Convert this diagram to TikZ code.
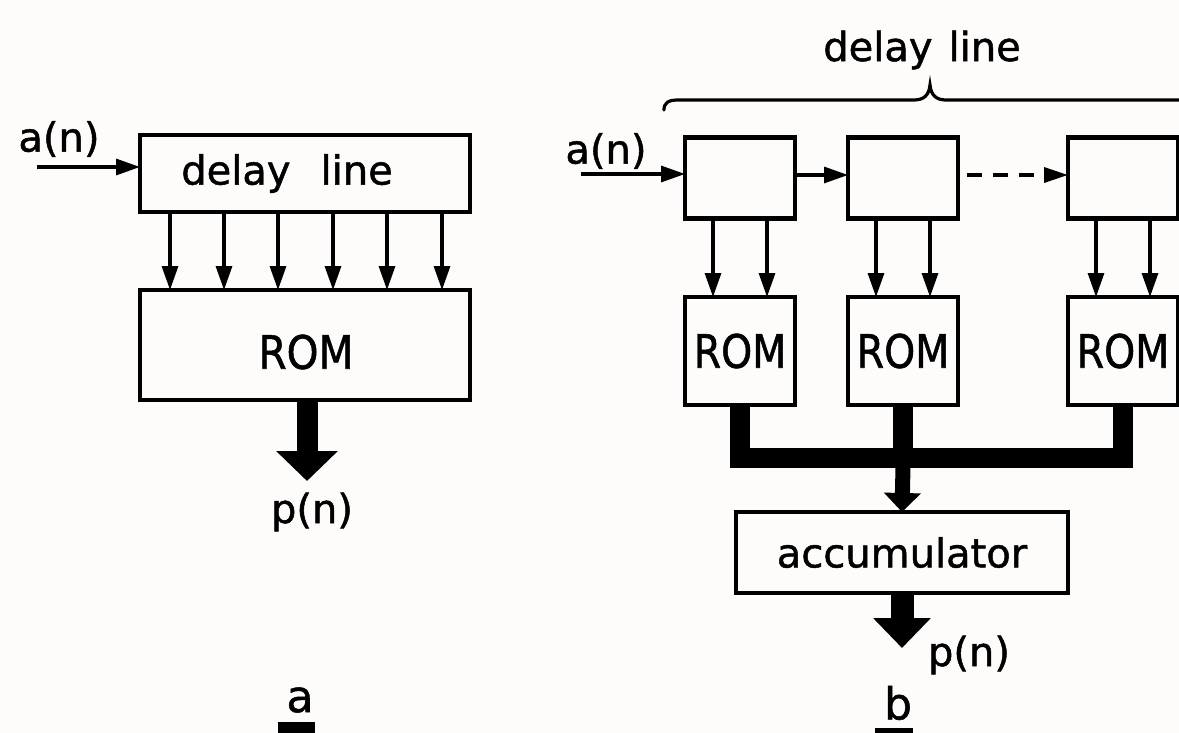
\documentclass[tikz,border=0pt]{standalone}
\usepackage{fontspec}
\setmainfont{DejaVu Sans}[FakeBold=1.2]
\newfontfamily\lett{DejaVu Sans}[FakeBold=1.2]
\usetikzlibrary{arrows.meta,calc}
\definecolor{paper}{RGB}{253,252,250}
\begin{document}
\begin{tikzpicture}[x=1pt,y=-1pt,
  box/.style={draw, line width=4.2pt, inner sep=0pt, outer sep=0pt},
  lbl/.style={font=\lett\fontsize{40}{44}\selectfont, inner sep=0pt},
  romfont/.style={font=\lett\fontsize{46}{50}\selectfont},
  captxt/.style={font=\lett\fontsize{44}{48}\selectfont, inner sep=0pt},
  thinarr/.style={line width=3.2pt, -{Triangle[length=24pt 0,width=16pt 0]}},
  dasharr/.style={line width=3.4pt, dash pattern=on 15pt off 11pt, -{Triangle[length=24pt 0,width=15pt 0]}},
  bus/.style={line width=20pt, line join=miter},
  bigarrL/.style={line width=21pt, -{Triangle[length=30pt 0,width=60pt 0]}},
  bigarrR/.style={line width=23pt, -{Triangle[length=30pt 0,width=56pt 0]}},
  midarr/.style={line width=15pt, -{Triangle[length=19pt 0,width=36pt 0]}},
  bracestyle/.style={line width=3.2pt, line cap=round}
]
\fill[paper] (0,0) rectangle (1179,733);
\useasboundingbox (0,0) rectangle (1179,733);

% ---------------- part a ----------------
\node[box, minimum width=330pt, minimum height=77pt, lbl] (dl) at (305,173.5) {\hspace*{-36pt}delay\hspace{30pt}line};
\node[box, minimum width=330pt, minimum height=110pt] (rom) at (305,345) {};
\node[lbl, romfont] (romt) at (306,352) {\scalebox{0.88}[1]{ROM}};
\node[lbl] (ainL) at (59,139) {a(n)};
\coordinate (inL) at (37,167);
\draw[thinarr] (inL) -- (inL -| dl.west);
\foreach \dx in {-135,-81,-27,28,82,137}
  \draw[thinarr] ([xshift=\dx pt]dl.south) -- ([xshift=\dx pt]rom.north);
\coordinate (outL) at (307,481);
\draw[bigarrL] (rom.south -| outL) -- (outL);
\node[lbl] (pL) at (312,512) {p(n)};
\node[captxt] (capa) at (300,700) {a};
\fill (278,722) rectangle (315,745);

% ---------------- part b ----------------
\node[lbl] (dlt) at (922,50) {delay\hspace{16pt}line};
\draw[bracestyle] (664,110) .. controls (664,103) and (668,100) .. (678,100)
   -- (914,100) .. controls (924,100) and (929,95) .. (930,85)
   .. controls (931,95) and (936,100) .. (946,100) -- (1195,100);

\node[box, minimum width=110pt, minimum height=81pt] (d1) at (740,178) {};
\node[box, minimum width=110pt, minimum height=81pt] (d2) at (903,178) {};
\node[box, minimum width=110pt, minimum height=81pt] (d3) at (1123,178) {};

\node[box, minimum width=110pt, minimum height=108pt, lbl, romfont] (r1) at (740,351) {\scalebox{0.86}[1]{ROM}};
\node[box, minimum width=110pt, minimum height=108pt, lbl, romfont] (r2) at (903,351) {\scalebox{0.86}[1]{ROM}};
\node[box, minimum width=110pt, minimum height=108pt, lbl, romfont] (r3) at (1123,351) {\scalebox{0.86}[1]{ROM}};

\node[lbl] (ainR) at (606,151) {a(n)};
\coordinate (inR) at (581,174);
\draw[thinarr] (inR) -- (inR -| d1.west);
\draw[thinarr] ([yshift=3pt]d1.east) -- ([yshift=3pt]d2.west);
\draw[dasharr] ([yshift=3pt,xshift=9pt]d2.east) -- ([yshift=3pt]d3.west);

\foreach \n in {1,2,3}{
  \draw[thinarr] ([xshift=-27pt]d\n.south) -- ([xshift=-27pt]r\n.north);
  \draw[thinarr] ([xshift=27pt]d\n.south) -- ([xshift=27pt]r\n.north);
}

\coordinate (busM) at (903,458);
\draw[bus] (r1.south) -- (r1.south |- busM) -- (r3.south |- busM) -- (r3.south);
\draw[bus] (r2.south) -- (busM);

\node[box, minimum width=332pt, minimum height=81pt, lbl] (acc) at (902,552.5) {accumulator};
\draw[midarr] ([yshift=-9pt]busM) -- (acc.north);

\coordinate (outR) at (902,648);
\draw[bigarrR] (acc.south) -- (outR);
\node[lbl] (pR) at (969,655) {p(n)};
\node[captxt] (capb) at (898,703) {b};
\fill (875,728) rectangle (913,745);
\end{tikzpicture}
\end{document}
